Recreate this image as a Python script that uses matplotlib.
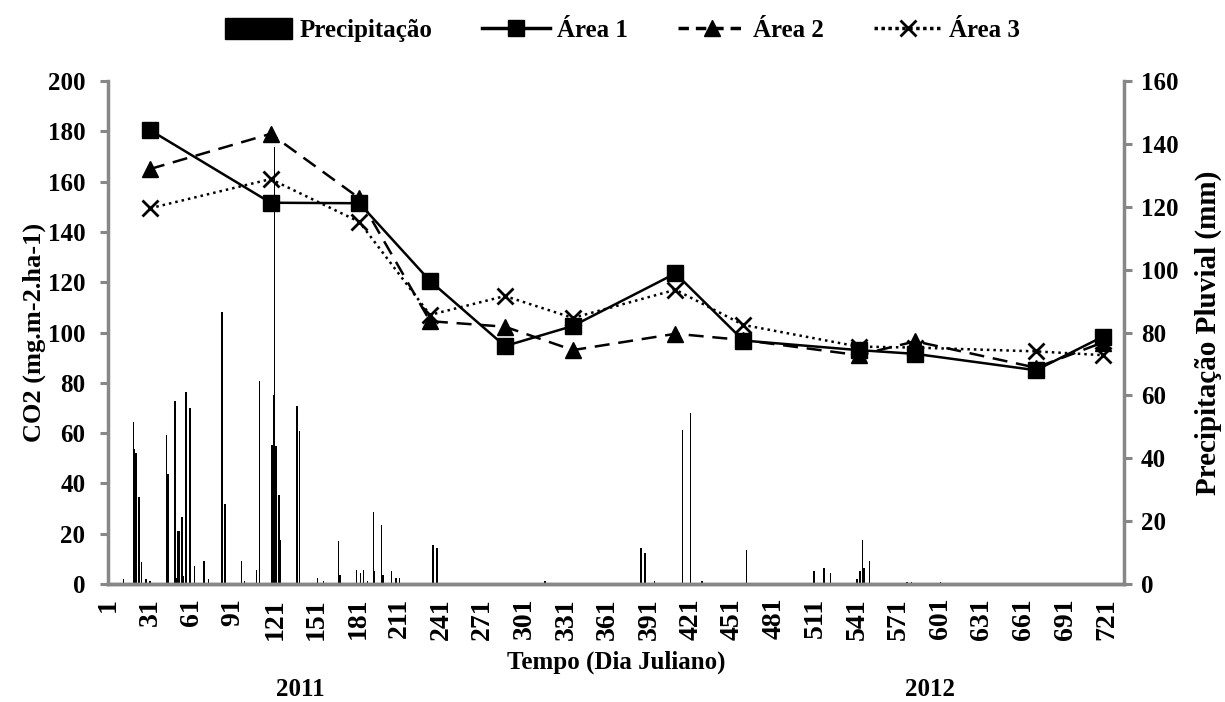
import matplotlib.pyplot as plt
from matplotlib.patches import Patch
from matplotlib.lines import Line2D

plt.rcParams['font.family'] = ['Liberation Serif', 'DejaVu Serif']
plt.rcParams['font.weight'] = 'bold'

# sampling days (Julian day counted from 1 Jan 2011)
days = [31, 118, 182, 233, 287, 336, 410, 459, 542, 583, 670, 718]
area1 = [180.5, 151.6, 151.4, 120.5, 94.6, 102.6, 123.5, 96.8, 93.0, 91.5, 85.0, 98.3]
area2 = [165.0, 179.0, 153.4, 104.5, 102.3, 93.0, 99.5, 97.0, 91.0, 96.5, 86.0, 96.0]
area3 = [149.4, 161.0, 144.0, 107.0, 114.5, 105.8, 117.0, 103.0, 94.4, 94.0, 92.5, 91.0]

# daily rainfall (mm)
rain_days = [12, 19, 20, 21, 23, 25, 28, 31, 43, 44, 49, 50, 51, 52, 54, 55, 57, 60,
             63, 70, 73, 83, 85, 97, 99, 108, 110, 119, 120, 121, 122, 124, 125,
             137, 139, 152, 156, 167, 168, 180, 183, 185, 188, 192, 193, 198, 199,
             205, 208, 209, 211, 235, 238, 316, 385, 388, 395, 415, 421, 429,
             461, 510, 517, 522, 541, 543, 545, 546, 550, 577, 580, 601]
rain = [1.6, 51.6, 43.0, 41.6, 27.8, 7.0, 1.6, 1.0, 47.4, 35.0, 58.2, 2.0, 17.0, 17.0,
        21.4, 2.5, 61.0, 55.9, 5.7, 7.3, 1.5, 86.6, 25.4, 7.3, 1.0, 4.5, 64.6, 44.2,
        60.0, 139.0, 44.0, 28.3, 14.0, 56.6, 48.7, 2.0, 1.0, 13.7, 3.0, 4.5, 3.5,
        4.5, 1.0, 22.8, 4.0, 18.8, 3.0, 4.0, 2.0, 2.0, 2.0, 12.4, 11.3, 0.8, 11.3,
        9.8, 0.8, 49.0, 54.3, 1.0, 10.8, 4.1, 5.0, 3.5, 1.5, 4.0, 14.0, 5.0, 7.4,
        0.6, 0.6, 0.6]

xticks = list(range(1, 722, 30))

grey = '#878787'

fig = plt.figure(figsize=(12.25, 7.02), dpi=100)
ax = fig.add_axes([0.0879, 0.1681, 0.8297, 0.7165])
ax2 = ax.twinx()

# rainfall bars on the secondary axis, behind the lines
ax2.bar(rain_days, rain, width=1.0, color='black', linewidth=0)
ax2.set_ylim(0, 160)
ax2.set_yticks(range(0, 161, 20))

ax.plot(days, area1, color='black', linestyle='-', linewidth=1.8,
        marker='s', markersize=11)
ax.plot(days, area2, color='black', linestyle=(0, (6, 3.5)), linewidth=1.8,
        marker='^', markersize=12)
ax.plot(days, area3, color='black', linestyle=(0, (1, 1.6)), linewidth=1.8,
        marker='x', markersize=12, markeredgewidth=2)

ax.set_zorder(ax2.get_zorder() + 1)
ax.patch.set_visible(False)

ax.set_xlim(0.5, 733.5)
ax.set_ylim(0, 200)
ax.set_yticks(range(0, 201, 20))
ax.set_xticks(xticks)
ax.set_xticklabels([str(t) for t in xticks], rotation=90, fontsize=20)

for a in (ax, ax2):
    a.spines['top'].set_visible(False)
    for s in ('left', 'right', 'bottom'):
        a.spines[s].set_color(grey)
        a.spines[s].set_linewidth(2.5)
    a.tick_params(axis='y', colors=grey, length=6, width=2.2, labelsize=18,
                  labelcolor='black', pad=6)
ax.tick_params(axis='y', pad=10)
ax.tick_params(axis='x', length=0, pad=10, labelsize=20)
ax.spines['right'].set_visible(False)
ax2.spines['left'].set_visible(False)

ax.set_ylabel('CO2 (mg.m-2.ha-1)', fontsize=19, fontweight='bold')
ax.yaxis.set_label_coords(-0.061, 0.5)
ax2.set_ylabel('Precipitação Pluvial (mm)', fontsize=21, fontweight='bold',
               rotation=90, labelpad=12)
ax.set_xlabel('Tempo (Dia Juliano)', fontsize=18, fontweight='bold', labelpad=8)

fig.text(300 / 1225, 1 - 690 / 702, '2011', ha='center', va='center',
         fontsize=18, fontweight='bold')
fig.text(930 / 1225, 1 - 690 / 702, '2012', ha='center', va='center',
         fontsize=18, fontweight='bold')

handles = [
    Patch(facecolor='black', edgecolor='black'),
    Line2D([], [], color='black', linestyle='-', linewidth=2.5, marker='s', markersize=11),
    Line2D([], [], color='black', linestyle=(0, (3, 2)), linewidth=2.5, marker='^', markersize=12),
    Line2D([], [], color='black', linestyle=(0, (1, 1)), linewidth=2.5, marker='x',
           markersize=12, markeredgewidth=2),
]
labels = ['Precipitação', 'Área 1', 'Área 2', 'Área 3']
fig.legend(handles, labels, loc='center', bbox_to_anchor=(0.508, 1 - 30 / 702),
           ncol=4, frameon=False, fontsize=18, handlelength=2.7, handleheight=0.9,
           columnspacing=2.0, handletextpad=0.3)

fig.savefig('out.png', dpi=100)
